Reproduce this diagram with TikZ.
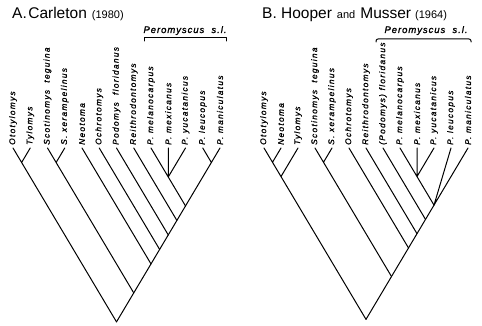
\documentclass[tikz,border=0pt]{standalone}
\usepackage{fontspec}
\setmainfont{Liberation Sans}
\newfontfamily\labfont[LetterSpace=16,FakeBold=1.2]{Liberation Sans}
\newfontfamily\perfont[LetterSpace=10,FakeBold=1.5]{Liberation Sans}
\usetikzlibrary{calc}
\tikzset{
  br/.style={line width=1pt, black, line cap=round, line join=round},
  leaf/.style={rotate=90, anchor=west, inner sep=0pt, font=\labfont\itshape\fontsize{8.3}{9}\selectfont},
  pertext/.style={anchor=base, inner sep=0pt, font=\perfont\itshape\fontsize{9.5}{10}\selectfont},
  title/.style={anchor=base west, inner sep=0pt},
}
\newcommand\clade[3]{\path let \p1=(#2), \p2=(#3) in coordinate (#1) at ({(\x1+\x2)/2},{\y1-(\x2-\x1)/2*1.68});}
\newcommand\bigt{\fontsize{15.5}{18}\selectfont}
\newcommand\smallt{\fontsize{11}{12}\selectfont}
\begin{document}
\begin{tikzpicture}[x=1pt,y=-1pt]
\useasboundingbox (0,0) rectangle (482,326);
% ---------- titles ----------
\node[title] (tA) at (12,19) {\bigt A.\kern1.5pt Carleton\hspace{5pt}{\smallt(1980)}};
\node[title] (tB) at (262,19) {\bigt B.\ Hooper\hspace{5pt}{\smallt and}\hspace{5pt}Musser\hspace{4pt}{\smallt(1964)}};
% ---------- tips ----------
\foreach \i in {1,...,13}{
  \pgfmathsetmacro\xa{13+(\i-1)*17.25}
  \coordinate (A\i) at (\xa,148);
  \pgfmathsetmacro\xb{264+(\i-1)*17}
  \coordinate (B\i) at (\xb,148);
}
% ---------- labels A ----------
\node[leaf] (lA1) at ($(A1)+(0,-3)$) {Ototylomys};
\node[leaf] (lA2) at ($(A2)+(0,-3)$) {Tylomys};
\node[leaf] (lA3) at ($(A3)+(0,-3)$) {Scotinomys\ \ teguina};
\node[leaf] (lA4) at ($(A4)+(0,-3)$) {S.\ xerampelinus};
\node[leaf] (lA5) at ($(A5)+(0,-3)$) {Neotoma};
\node[leaf] (lA6) at ($(A6)+(0,-3)$) {Ochrotomys};
\node[leaf] (lA7) at ($(A7)+(0,-3)$) {Podomys\ \ floridanus};
\node[leaf] (lA8) at ($(A8)+(0,-3)$) {Reithrodontomys};
\node[leaf] (lA9) at ($(A9)+(0,-3)$) {P.\ melanocarpus};
\node[leaf] (lA10) at ($(A10)+(0,-3)$) {P.\ mexicanus};
\node[leaf] (lA11) at ($(A11)+(0,-3)$) {P.\ yucatanicus};
\node[leaf] (lA12) at ($(A12)+(0,-3)$) {P.\ leucopus};
\node[leaf] (lA13) at ($(A13)+(0,-3)$) {P.\ maniculatus};
% ---------- labels B ----------
\node[leaf] (lB1) at ($(B1)+(0,-3)$) {Ototylomys};
\node[leaf] (lB2) at ($(B2)+(0,-3)$) {Neotoma};
\node[leaf] (lB3) at ($(B3)+(0,-3)$) {Tylomys};
\node[leaf] (lB4) at ($(B4)+(0,-3)$) {Scotinomys\ \ teguina};
\node[leaf] (lB5) at ($(B5)+(0,-3)$) {S.\ xerampelinus};
\node[leaf] (lB6) at ($(B6)+(0,-3)$) {Ochrotomys};
\node[leaf] (lB7) at ($(B7)+(0,-3)$) {Reithrodontomys};
\node[leaf] (lB8) at ($(B8)+(0,-3)$) {(Podomys)\ floridanus};
\node[leaf] (lB9) at ($(B9)+(0,-3)$) {P.\ melanocarpus};
\node[leaf] (lB10) at ($(B10)+(0,-3)$) {P.\ mexicanus};
\node[leaf] (lB11) at ($(B11)+(0,-3)$) {P.\ yucatanicus};
\node[leaf] (lB12) at ($(B12)+(0,-3)$) {P.\ leucopus};
\node[leaf] (lB13) at ($(B13)+(0,-3)$) {P.\ maniculatus};
% ---------- Peromyscus brackets ----------
\node[pertext] (pA) at (185,33) {Peromyscus\ \ s.l.};
\coordinate (bAl) at (144,41); \coordinate (bAr) at (226,41);
\draw[br] (bAl) -- ++(0,-3) -| (bAr);
\node[pertext] (pB) at (426,33) {Peromyscus\ \ s.l.};
\coordinate (bBl) at (376,42); \coordinate (bBr) at (471,42);
\draw[br, rounded corners=2pt] (bBl) -- ++(0,-3) -| (bBr);
% ---------- tree A ----------
\clade{nA1}{A1}{A2}
\clade{nA2}{A3}{A4}
\clade{nAT}{A9}{A11}
\clade{nALM}{A12}{A13}
\clade{nAP}{A9}{A13}
\clade{nAR}{A8}{A13}
\clade{nAPo}{A7}{A13}
\clade{nAO}{A6}{A13}
\clade{nAN}{A5}{A13}
\clade{nAS}{A3}{A13}
\clade{rootA}{A1}{A13}
\draw[br] (A1) -- (nA1) (A2) -- (nA1) (nA1) -- (rootA);
\draw[br] (A3) -- (nA2) (A4) -- (nA2) (nA2) -- (nAS);
\draw[br] (A5) -- (nAN) (A6) -- (nAO) (A7) -- (nAPo) (A8) -- (nAR);
\draw[br] (A9) -- (nAT) (A10) -- (nAT) (A11) -- (nAT) (nAT) -- (nAP);
\draw[br] (A12) -- (nALM) (A13) -- (nALM) (nALM) -- (nAP);
\draw[br] (nAP) -- (nAR) -- (nAPo) -- (nAO) -- (nAN) -- (nAS) -- (rootA);
% ---------- tree B ----------
\clade{nB1}{B1}{B2}
\clade{nB2}{B1}{B3}
\clade{nB3}{B4}{B5}
\clade{nBT}{B9}{B11}
\clade{nBP}{B9}{B13}
\clade{nBPo}{B8}{B13}
\clade{nBR}{B7}{B13}
\clade{nBO}{B6}{B13}
\clade{nBS}{B4}{B13}
\clade{rootB}{B1}{B13}
\draw[br] (B1) -- (nB1) (B2) -- (nB1) (nB1) -- (nB2) (B3) -- (nB2) (nB2) -- (rootB);
\draw[br] (B4) -- (nB3) (B5) -- (nB3) (nB3) -- (nBS);
\draw[br] (B6) -- (nBO) (B7) -- (nBR) (B8) -- (nBPo);
\draw[br] (B9) -- (nBT) (B10) -- (nBT) (B11) -- (nBT) (nBT) -- (nBP);
\draw[br] (B12) -- (nBP) (B13) -- (nBP);
\draw[br] (nBP) -- (nBPo) -- (nBR) -- (nBO) -- (nBS) -- (rootB);
\end{tikzpicture}
\end{document}
